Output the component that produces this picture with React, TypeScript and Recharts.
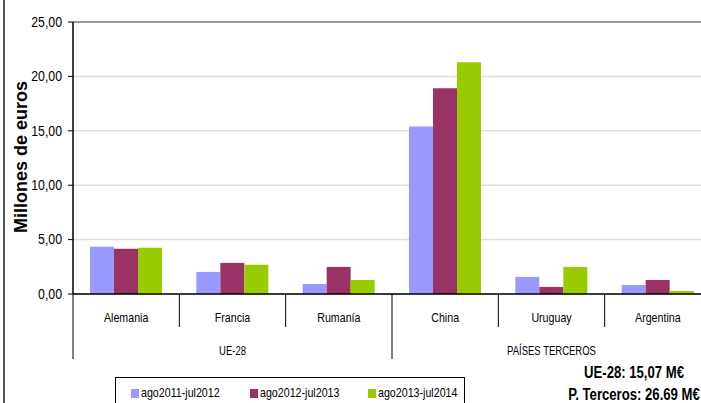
import React from "react";
import { BarChart, Bar, XAxis, YAxis, CartesianGrid, Legend, ReferenceLine } from "recharts";

const categories = ["Alemania", "Francia", "Rumanía", "China", "Uruguay", "Argentina"];
const serie2012 = [4.34, 2.03, 0.92, 15.4, 1.57, 0.83];
const serie2013 = [4.15, 2.86, 2.49, 18.9, 0.65, 1.29];
const serie2014 = [4.24, 2.68, 1.29, 21.3, 2.49, 0.28];
const seriesNames = ["ago2011-jul2012", "ago2012-jul2013", "ago2013-jul2014"];
const seriesKeys = ["s1", "s2", "s3"];
const seriesColors = ["#9999FF", "#993366", "#99CC00"];
const groups = [
  { name: "UE-28", start: 0, end: 2 },
  { name: "PAÍSES TERCEROS", start: 3, end: 5 },
];
const yTicks = [0, 5, 10, 15, 20, 25];
const totals = ["UE-28: 15,07 M€", "P. Terceros: 26.69 M€"];

const data = categories.map((c, i) => ({
  name: c,
  s1: serie2012[i],
  s2: serie2013[i],
  s3: serie2014[i],
}));

const W = 720;
const H = 403;
const MARGIN = { top: 22, right: 9, left: 0, bottom: 0 };
const YW = 73;
const XH = 109;
const PLOT_BOTTOM = H - XH - MARGIN.bottom;
const HALF = (W - MARGIN.left - MARGIN.right - YW) / categories.length / 2;

const FONT = "'Liberation Sans', Arial, sans-serif";
const SQ = 0.82;

const NText = (p: any) => {
  const { x, y, anchor, size, bold, children, sx } = p;
  return (
    <text
      transform={`translate(${x} ${y}) scale(${sx ?? SQ} 1)`}
      textAnchor={anchor}
      dominantBaseline="central"
      fontSize={size}
      fontWeight={bold ? "bold" : "normal"}
      fill="#000"
      fontFamily={FONT}
    >
      {children}
    </text>
  );
};

const XTick = (props: any) => {
  const { x, index, payload } = props;
  const groupStart = groups.some((g) => g.start === index);
  const grp = groups.find((g) => (g.start + g.end) / 2 === index);
  return (
    <g>
      <NText x={x} y={PLOT_BOTTOM + 24} anchor="middle" size={13}>
        {payload.value}
      </NText>
      <line x1={x - HALF} x2={x - HALF} y1={PLOT_BOTTOM} y2={PLOT_BOTTOM + (groupStart ? 65 : 33)} stroke="#000" strokeWidth={1} />
      {index === categories.length - 1 && (
        <line x1={x + HALF} x2={x + HALF} y1={PLOT_BOTTOM} y2={PLOT_BOTTOM + 65} stroke="#000" strokeWidth={1} />
      )}
      {grp && (
        <NText x={x} y={PLOT_BOTTOM + 56} anchor="middle" size={12.5} sx={0.76}>
          {grp.name}
        </NText>
      )}
    </g>
  );
};

const YTick = (props: any) => {
  const { x, y, payload } = props;
  return (
    <NText x={x - 1} y={y} anchor="end" size={14} sx={0.88}>
      {Number(payload.value).toFixed(2).replace(".", ",")}
    </NText>
  );
};

const YLabel = () => (
  <text
    x={21}
    y={157}
    transform="rotate(-90 21 157)"
    textAnchor="middle"
    dominantBaseline="central"
    fontSize={18}
    fontWeight="bold"
    fill="#000"
    fontFamily={FONT}
  >
    Millones de euros
  </text>
);

const LegendBox = () => (
  <div
    style={{
      position: "relative",
      border: "1px solid #000",
      width: 350,
      height: 40,
      boxSizing: "border-box",
      fontFamily: FONT,
      fontSize: 13,
      color: "#000",
    }}
  >
    {seriesNames.map((n, i) => (
      <div key={n} style={{ position: "absolute", left: 15 + i * 118.5, top: 7, height: 16, display: "flex", alignItems: "center" }}>
        <span style={{ display: "inline-block", width: 8, height: 9, background: seriesColors[i], marginRight: 2 }} />
        <span style={{ display: "inline-block", transform: `scaleX(${SQ})`, transformOrigin: "left center", whiteSpace: "nowrap", lineHeight: "16px" }}>{n}</span>
      </div>
    ))}
  </div>
);

export default function App() {
  return (
    <div style={{ position: "absolute", left: 0, top: 0, width: 701, height: 403, overflow: "hidden", background: "#fff", fontFamily: FONT }}>
      <BarChart width={W} height={H} data={data} margin={MARGIN} barCategoryGap="16%" barGap={0}>
        <CartesianGrid vertical={false} stroke="#dedede" strokeWidth={1.5} />
        <ReferenceLine y={25} stroke="#7f7f7f" strokeWidth={1.5} />
        <XAxis
          dataKey="name"
          height={XH}
          tick={<XTick />}
          tickLine={false}
          axisLine={{ stroke: "#000", strokeWidth: 1.5 }}
          interval={0}
        />
        <YAxis
          width={YW}
          domain={[0, 25]}
          ticks={yTicks}
          tick={<YTick />}
          tickSize={5}
          tickMargin={5}
          tickLine={{ stroke: "#000" }}
          axisLine={{ stroke: "#000", strokeWidth: 1.5 }}
          label={<YLabel />}
          interval={0}
        />
        <Legend
          layout="horizontal"
          verticalAlign="middle"
          content={<LegendBox />}
          wrapperStyle={{ left: 115, top: 377, bottom: "auto", width: 350, height: 40 }}
        />
        {seriesKeys.map((k, i) => (
          <Bar key={k} dataKey={k} name={seriesNames[i]} fill={seriesColors[i]} isAnimationActive={false} />
        ))}
      </BarChart>
      <div style={{ position: "absolute", left: 3, top: 0, width: 0, height: 403, borderLeft: "2px solid #555" }} />
      {totals.map((t, i) => (
        <div
          key={t}
          style={{
            position: "absolute",
            left: 534,
            width: 200,
            top: i === 0 ? 364 : 386,
            textAlign: "center",
            fontWeight: "bold",
            fontSize: 16,
            lineHeight: "18px",
            fontFamily: FONT,
            color: "#000",
            whiteSpace: "nowrap",
            transform: `scaleX(${SQ})`,
            transformOrigin: "100px center",
          }}
        >
          {t}
        </div>
      ))}
    </div>
  );
}
